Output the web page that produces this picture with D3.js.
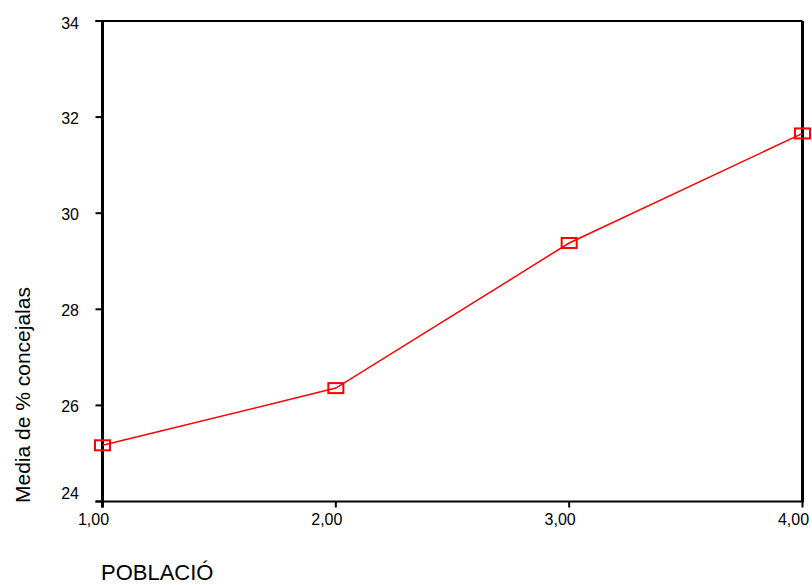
<!DOCTYPE html>
<html>
<head>
<meta charset="utf-8">
<script src="https://cdn.jsdelivr.net/npm/d3@7"></script>
<style>
  html, body { margin: 0; padding: 0; background: #fff; }
  svg { display: block; }
  text { font-family: "Liberation Sans", Arial, sans-serif; fill: #000; }
</style>
</head>
<body>
<svg id="chart" width="812" height="585"></svg>
<script>
// ---- data ----
const categories = [1, 2, 3, 4];
const means = [25.17, 26.36, 29.38, 31.66];
const yTicks = [24, 26, 28, 30, 32, 34];
const xTickLabels = ["1,00", "2,00", "3,00", "4,00"];
const xTitle = "POBLACIÓ";
const yTitle = "Media de % concejalas";

// ---- layout ----
const W = 812, H = 585;
const mLeft = 102.5, mRight = 802.5, mTop = 21, mBottom = 501.5;

const svg = d3.select("#chart");

const x = d3.scaleLinear().domain([1, 4]).range([mLeft, mRight]);
const y = d3.scaleLinear().domain([24, 34]).range([mBottom, mTop]);

// top frame line
svg.append("line")
  .attr("x1", mLeft - 7).attr("x2", mRight)
  .attr("y1", mTop).attr("y2", mTop)
  .attr("stroke", "#000").attr("stroke-width", 2);

// right frame line
svg.append("line")
  .attr("x1", mRight).attr("x2", mRight)
  .attr("y1", mTop).attr("y2", mBottom)
  .attr("stroke", "#000").attr("stroke-width", 3);

// y axis
const yAxisG = svg.append("g");
yAxisG.append("line")
  .attr("x1", mLeft).attr("x2", mLeft)
  .attr("y1", mTop).attr("y2", mBottom + 6)
  .attr("stroke", "#000").attr("stroke-width", 3);
yAxisG.selectAll("line.tick").data(yTicks).enter().append("line")
  .attr("class", "tick")
  .attr("x1", mLeft - 7).attr("x2", mLeft)
  .attr("y1", d => y(d)).attr("y2", d => y(d))
  .attr("stroke", "#000").attr("stroke-width", 2);
yAxisG.selectAll("text").data(yTicks).enter().append("text")
  .attr("x", 79)
  .attr("y", d => Math.max(mTop + 2, Math.min(y(d) + 1, mBottom - 8)))
  .attr("dy", "0.35em")
  .attr("text-anchor", "end")
  .style("font-size", "16px")
  .text(d => d);

// x axis
const xAxisG = svg.append("g");
xAxisG.append("line")
  .attr("x1", mLeft - 7).attr("x2", mRight + 1.5)
  .attr("y1", mBottom).attr("y2", mBottom)
  .attr("stroke", "#000").attr("stroke-width", 2);
xAxisG.selectAll("line.tick").data(categories).enter().append("line")
  .attr("class", "tick")
  .attr("x1", d => x(d)).attr("x2", d => x(d))
  .attr("y1", mBottom).attr("y2", mBottom + 6)
  .attr("stroke", "#000").attr("stroke-width", 2);
xAxisG.selectAll("text").data(categories).enter().append("text")
  .attr("x", d => x(d) - 9)
  .attr("y", 525)
  .attr("text-anchor", "middle")
  .style("font-size", "16px")
  .text((d, i) => xTickLabels[i]);

// titles
svg.append("text")
  .attr("x", 101).attr("y", 580)
  .style("font-size", "22px")
  .text(xTitle);

svg.append("text")
  .attr("transform", "translate(30,503) rotate(-90)")
  .attr("text-anchor", "start")
  .style("font-size", "21px")
  .text(yTitle);

// series line
const line = d3.line().x((d, i) => x(categories[i])).y(d => y(d));
svg.append("path")
  .datum(means)
  .attr("d", line)
  .attr("fill", "none")
  .attr("stroke", "#ff0000")
  .attr("stroke-width", 1.5);

// markers
svg.selectAll("rect.marker").data(means).enter().append("rect")
  .attr("class", "marker")
  .attr("x", (d, i) => x(categories[i]) - 7.5)
  .attr("y", d => y(d) - 5)
  .attr("width", 15).attr("height", 10)
  .attr("fill", "none")
  .attr("stroke", "#ff0000")
  .attr("stroke-width", 2);
</script>
</body>
</html>
